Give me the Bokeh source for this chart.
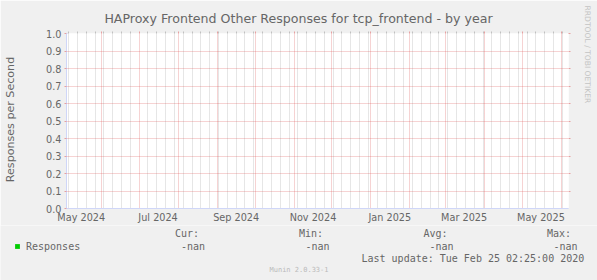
import math
import pandas as pd
from bokeh.plotting import figure
from bokeh.layouts import column
from bokeh.models import (Range1d, LinearAxis, FixedTicker, Grid, Label, PolyAnnotation,
                          Legend, LegendItem, ColumnDataSource)
from bokeh.embed import file_html
from bokeh.resources import INLINE

# ---------------- data ----------------
title_text = "HAProxy Frontend Other Responses for tcp_frontend - by year"
y_label_text = "Responses per Second"
watermark_right = "RRDTOOL / TOBI OETIKER"
watermark_bottom = "Munin 2.0.33-1"
last_update = "Last update: Tue Feb 25 02:25:00 2020"

x_start = "2024-05-04 07:00"
x_end = "2025-06-06 21:00"

series_name = "Responses"
series_color = "#00CC00"
resp_times = ["2024-05-04", "2024-08-01", "2024-11-01", "2025-02-01", "2025-06-06"]
resp_values = [float("nan"), float("nan"), float("nan"), float("nan"), float("nan")]

stat_headers = ["Cur:", "Min:", "Avg:", "Max:"]
stat_values = ["-nan", "-nan", "-nan", "-nan"]

y_ticks = [0.0, 0.1, 0.2, 0.3, 0.4, 0.5, 0.6, 0.7, 0.8, 0.9, 1.0]
y_tick_labels = ["0.0", "0.1", "0.2", "0.3", "0.4", "0.5", "0.6", "0.7", "0.8", "0.9", "1.0"]

label_months = ["2024-05-01", "2024-07-01", "2024-09-01", "2024-11-01",
                "2025-01-01", "2025-03-01", "2025-05-01"]
label_texts = ["May 2024", "Jul 2024", "Sep 2024", "Nov 2024",
               "Jan 2025", "Mar 2025", "May 2025"]

# ---------------- helpers ----------------
def ms(t):
    return pd.Timestamp(t).value / 1e6

t0, t1 = ms(x_start), ms(x_end)
W, H = 597, 225          # main figure
FH = 280 - H             # footer figure height
L, R, T, B = 66, 29, 33, 17
fw, fh = W - L - R, H - T - B
X0, Y0, X1, Y1 = L, T + fh, L + fw, T   # frame corners in canvas px

month_starts = [ms(d) for d in pd.date_range("2024-05-01", "2025-07-01", freq="MS")]
month_starts = [m for m in month_starts if t0 <= m <= t1]
mondays = [ms(d) for d in pd.date_range(x_start, x_end, freq="W-MON").normalize()]
minor = [m for m in mondays if t0 <= m <= t1 and m not in month_starts]
label_pos = [ms(d) + 15 * 86400000 for d in label_months]

FONT = "#666666"
GRID = "#8F8F8F"
MGRID = "#DE4F4F"
AXIS = "#CFD6F8"
BG = "#F0F0F0"

p = figure(width=W, height=H, x_range=Range1d(t0, t1), y_range=Range1d(0, 1),
           x_axis_type=None, y_axis_type=None, toolbar_location=None, tools="",
           output_backend="svg", min_border_left=L, min_border_right=R,
           min_border_top=T, min_border_bottom=B, frame_align=False,
           background_fill_color="#FFFFFF", border_fill_color=BG,
           outline_line_color=None)

# grids
g_minor = Grid(dimension=0, ticker=FixedTicker(ticks=minor), grid_line_color=GRID,
               grid_line_alpha=0.45, grid_line_dash="1 1", grid_line_width=1)
g_major = Grid(dimension=0, ticker=FixedTicker(ticks=month_starts), grid_line_color=MGRID,
               grid_line_alpha=0.5, grid_line_dash="1 1", grid_line_width=1)
g_y = Grid(dimension=1, ticker=FixedTicker(ticks=y_ticks[1:]), grid_line_color=MGRID,
           grid_line_alpha=0.5, grid_line_dash="1 1", grid_line_width=1)
p.add_layout(g_minor)
p.add_layout(g_major)
p.add_layout(g_y)

# axes
ya = LinearAxis(ticker=FixedTicker(ticks=y_ticks),
                major_label_overrides={v: s for v, s in zip(y_ticks, y_tick_labels)},
                axis_line_color=AXIS, major_tick_line_color=MGRID, major_tick_line_alpha=0.5,
                major_tick_out=2, major_tick_in=0, minor_tick_line_color=None,
                major_label_standoff=3, major_label_text_font="DejaVu Sans",
                major_label_text_font_size="9.7px", major_label_text_color=FONT)
p.add_layout(ya, "left")

xa = LinearAxis(ticker=FixedTicker(ticks=label_pos),
                major_label_overrides={v: s for v, s in zip(label_pos, label_texts)},
                axis_line_color=AXIS, major_tick_line_color=None, major_tick_out=0,
                major_tick_in=0, minor_tick_line_color=None, major_label_standoff=3,
                major_label_text_font="DejaVu Sans", major_label_text_font_size="9.7px",
                major_label_text_color=FONT)
p.add_layout(xa, "below")

xt = LinearAxis(ticker=FixedTicker(ticks=month_starts, minor_ticks=minor),
                axis_line_color=None, major_tick_line_color=MGRID, major_tick_line_alpha=0.5,
                major_tick_out=2, major_tick_in=0, minor_tick_line_color=GRID,
                minor_tick_line_alpha=0.5, minor_tick_out=2, minor_tick_in=0,
                major_label_text_color=None, major_label_text_font_size="1px",
                major_label_standoff=0)
p.add_layout(xt, "above")

yr = LinearAxis(ticker=FixedTicker(ticks=y_ticks[1:]), axis_line_color=None,
                major_tick_line_color=MGRID, major_tick_line_alpha=0.5, major_tick_out=2,
                major_tick_in=0, minor_tick_line_color=None, major_label_text_color=None,
                major_label_text_font_size="1px", major_label_standoff=0)
p.add_layout(yr, "right")

# series (no data -> nan)
src = ColumnDataSource(dict(t=[ms(t) for t in resp_times], v=resp_values,
                            z=[0.0] * len(resp_values)))
p.varea(x="t", y1="z", y2="v", source=src, fill_color=series_color)
p.line(x="t", y="v", source=src, line_color=series_color, line_width=1)

# axis extensions and arrow heads (rrdtool style), placed in side panels (unclipped)
def poly(xs, ys, side):
    p.add_layout(PolyAnnotation(xs=xs, ys=ys, xs_units="canvas", ys_units="canvas",
                                fill_color=AXIS, fill_alpha=1.0, line_color=AXIS,
                                line_alpha=1.0, line_width=1), side)

poly([X0 - 4, X0, X0, X0 + 1, X0 + 1, X0 - 4],
     [Y0, Y0, Y0 + 4, Y0 + 4, Y0 + 1, Y0 + 1], "left")
poly([X1, X1 + 4, X1 + 4, X1], [Y0, Y0, Y0 + 1, Y0 + 1], "right")
poly([X1 + 2, X1 + 2, X1 + 7], [Y0 - 2.5, Y0 + 3.5, Y0 + 0.5], "right")
poly([X0, X0 + 1, X0 + 1, X0], [Y1 - 4, Y1 - 4, Y1, Y1], "above")
poly([X0 - 2.5, X0 + 3.5, X0 + 0.5], [Y1 - 2, Y1 - 2, Y1 - 7], "above")


def lab(fig, x, y, text, size, side=None, font="DejaVu Sans", color=FONT, align="left",
        baseline="middle", angle=0.0):
    lb = Label(x=x, y=y, x_units="canvas", y_units="canvas", text=text,
               text_font=font, text_font_size=size, text_color=color,
               text_align=align, text_baseline=baseline, angle=angle)
    if side is None:
        fig.add_layout(lb)
    else:
        fig.add_layout(lb, side)

lab(p, 298, 18.3, title_text, "12.6px", "above", align="center", baseline="alphabetic")
lab(p, 10, 119, y_label_text, "11.1px", "left", align="center", angle=math.pi / 2)
lab(p, 587, 5, watermark_right, "7.6px", "right", color="#C4C4C4", angle=-math.pi / 2)

# ---------------- footer (legend area) ----------------
f = figure(width=W, height=FH, x_range=Range1d(0, W), y_range=Range1d(FH, 0),
           x_axis_type=None, y_axis_type=None, toolbar_location=None, tools="",
           output_backend="svg", min_border=0, min_border_left=0, min_border_right=0,
           min_border_top=0, min_border_bottom=0, frame_align=False,
           background_fill_color=BG, border_fill_color=BG, outline_line_color=None)
fr = f.varea(x="t", y1="z", y2="v", source=src, fill_color=series_color)
legend = Legend(items=[LegendItem(label=series_name, renderers=[fr])],
                location=(14, FH - (251.5 - H)), padding=0, margin=0, spacing=0,
                glyph_width=6, glyph_height=6, label_height=6, label_standoff=6,
                background_fill_alpha=0, border_line_color=None,
                label_text_font="DejaVu Sans Mono", label_text_font_size="10px",
                label_text_color=FONT, label_text_baseline="middle")
f.add_layout(legend)

hx = [174.5, 298.5, 423, 546.5]
vx = [180.5, 305, 429, 553]
for x, s in zip(hx, stat_headers):
    lab(f, x, 233.3 - H, s, "10px", font="DejaVu Sans Mono")
for x, s in zip(vx, stat_values):
    lab(f, x, 245.7 - H, s, "10px", font="DejaVu Sans Mono")
lab(f, 361, 257.7 - H, last_update, "10px", font="DejaVu Sans Mono")
lab(f, 298.5, 269 - H, watermark_bottom, "7px", font="DejaVu Sans Mono",
    color="#BBBBBB", align="center")

layout = column(p, f, spacing=0)
open("out.html", "w").write(file_html(layout, INLINE))
